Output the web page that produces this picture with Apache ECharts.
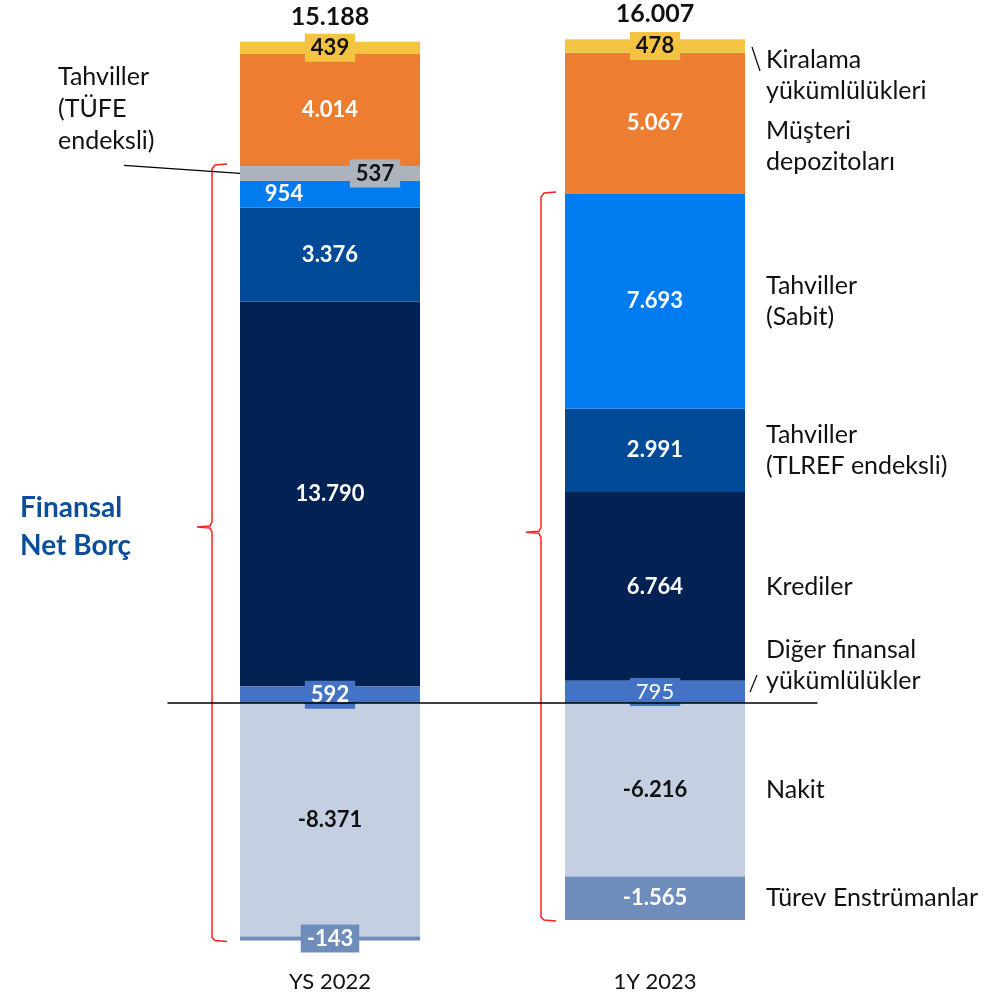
<!DOCTYPE html>
<html><head><meta charset="utf-8">
<script src="https://cdn.jsdelivr.net/npm/echarts@6/dist/echarts.min.js"></script>
<style>html,body{margin:0;padding:0;background:#fff}#c{width:1004px;height:998px}</style>
</head><body><div id="c"></div>
<script>
var categories = ['YS 2022', '1Y 2023'];
var diger = [592, 795];
var krediler = [13790, 6764];
var tlref = [3376, 2991];
var sabit = [954, 7693];
var tufe = [537, 0];
var musteri = [4014, 5067];
var kiralama = [439, 478];
var nakit = [-8371, -6216];
var turev = [-143, -1565];

var posSeries = [diger, krediler, tlref, sabit, tufe, musteri, kiralama];
var negSeries = [nakit, turev];
var posTotal = categories.map(function(_, i){ return posSeries.reduce(function(s,a){return s+a[i];},0); });
var netTotal = categories.map(function(_, i){ return posTotal[i] + negSeries.reduce(function(s,a){return s+a[i];},0); });

function fmt(v){
  var neg = v < 0; var s = String(Math.abs(v));
  s = s.replace(/\B(?=(\d{3})+(?!\d))/g, '.');
  return (neg ? '-' : '') + s;
}
var FONT = 'Lato';
var chart = echarts.init(document.getElementById('c'), null, {renderer:'canvas'});

function lbl(extra){
  var o = {show:true, position:'inside', fontFamily:FONT, fontSize:22, fontWeight:'bold', color:'#fff',
    formatter:function(p){ return p.value === 0 ? '' : fmt(p.value); }};
  for (var k in extra) o[k] = extra[k];
  return o;
}
function items(arr, perItem){
  return arr.map(function(v, i){
    var it = {value:v};
    if (v === 0) it.label = {show:false};
    else if (perItem && perItem[i]) it.label = perItem[i];
    return it;
  });
}
function bar(name, data, color, label, z){
  return {type:'bar', name:name, stack:'a', barWidth:180, data:data, z: z || 2,
    itemStyle:{color:color}, label:label, emphasis:{disabled:true}, silent:true};
}
var box = [4,6,2,6];
var option = {
  animation:false,
  grid:{left:167.5, width:650, top:5.5, height:948.6},
  xAxis:{type:'category', data:categories, axisLine:{show:false}, axisTick:{show:false},
    axisLabel:{fontFamily:FONT, fontSize:22, color:'#111', margin:17}},
  yAxis:{type:'value', min:-9000, max:25000, show:false, splitLine:{show:false}},
  series:[
    bar('Diğer finansal yükümlülükler', items(diger, [
        {backgroundColor:'#4472C4', padding:box},
        {backgroundColor:'#4472C4', padding:box, fontWeight:'normal'}
      ]), '#4472C4', lbl({}), 3),
    bar('Krediler', items(krediler), '#022253', lbl({})),
    bar('Tahviller (TLREF endeksli)', items(tlref), '#004A97', lbl({})),
    bar('Tahviller (Sabit)', items(sabit, [{offset:[-46,0]}, null]), '#007CF0', lbl({})),
    bar('Tahviller (TÜFE endeksli)', items(tufe), '#ADB3BD',
      lbl({color:'#111', backgroundColor:'#ADB3BD', padding:box, offset:[45,0]})),
    bar('Müşteri depozitoları', items(musteri), '#ED7D31', lbl({})),
    bar('Kiralama yükümlülükleri', items(kiralama), '#F4C342', lbl({color:'#111', backgroundColor:'#F4C342', padding:box})),
    bar('Nakit', items(nakit), '#C4CFE1', lbl({color:'#111'})),
    bar('Türev Enstrümanlar', items(turev, [{backgroundColor:'#6E8DBB', padding:box}, null]), '#6E8DBB', lbl({}), 2.5)
  ]
};
// zero line
option.series[8].markLine = {silent:true, symbol:['none','none'], label:{show:false},
  lineStyle:{color:'#000', width:1.5, type:'solid'}, data:[{yAxis:0}]};
chart.setOption(option);

function px(i, v){ return chart.convertToPixel({xAxisIndex:0, yAxisIndex:0}, [i, v]); }
function mid(i, arrs, idx){
  var base = 0; for (var k=0;k<idx;k++) base += arrs[k][i];
  return px(i, base + arrs[idx][i]/2)[1];
}
var half = 90;
var bar1L = px(0,0)[0] - half, bar2L = px(1,0)[0] - half, bar2R = px(1,0)[0] + half;
var bracketTop1 = px(0, diger[0]+krediler[0]+tlref[0]+sabit[0]+tufe[0])[1];
var bracketBot1 = px(0, nakit[0]+turev[0])[1];
var bracketTop2 = px(1, diger[1]+krediler[1]+tlref[1]+sabit[1]+tufe[1])[1];
var bracketBot2 = px(1, nakit[1]+turev[1])[1];

function brace(x0, top, bot){
  var tip = top + 0.466*(bot-top);
  return {type:'polyline', silent:true, shape:{points:[
      [x0+15, top-2],[x0+3, top-1],[x0, top+3],[x0, tip-5],[x0-2, tip-1],[x0-15, tip],[x0-2, tip+1],[x0, tip+5],
      [x0, bot-3],[x0+3, bot],[x0+15, bot+1]]},
    style:{stroke:'#FF2020', lineWidth:1.5, fill:null}};
}
function txt(x, y, t, extra){
  var s = {text:t, x:x, y:y, fontFamily:FONT, fontSize:25, fill:'#111', lineHeight:31, verticalAlign:'middle', align:'left'};
  for (var k in extra) s[k] = extra[k];
  return {type:'text', silent:true, style:s};
}
var rx = bar2R + 21;
var tufeMid = mid(0, posSeries, 4);
var g = [
  brace(bar1L - 28, bracketTop1, bracketBot1),
  brace(bar2L - 24, bracketTop2, bracketBot2),
  {type:'line', silent:true, shape:{x1:124, y1:tufeMid-8, x2:bar1L, y2:tufeMid}, style:{stroke:'#000', lineWidth:1.2}},
  {type:'line', silent:true, shape:{x1:bar2R+7, y1:mid(1,posSeries,6)+1, x2:bar2R+15, y2:mid(1,posSeries,6)+25}, style:{stroke:'#000', lineWidth:1.2}},
  {type:'line', silent:true, shape:{x1:bar2R+5, y1:mid(1,posSeries,0), x2:bar2R+12, y2:mid(1,posSeries,0)-17}, style:{stroke:'#000', lineWidth:1.2}},
  txt(rx, mid(1,posSeries,6)+29, 'Kiralama\nyükümlülükleri'),
  txt(rx, mid(1,posSeries,5)+23, 'Müşteri\ndepozitoları'),
  txt(rx, mid(1,posSeries,3), 'Tahviller\n(Sabit)'),
  txt(rx, mid(1,posSeries,2), 'Tahviller\n(TLREF endeksli)'),
  txt(rx, mid(1,posSeries,1), 'Krediler'),
  txt(rx, mid(1,posSeries,0)-26, 'Diğer finansal\nyükümlülükler'),
  txt(rx, px(1, nakit[1]/2)[1], 'Nakit'),
  txt(rx, px(1, nakit[1]+turev[1]/2)[1], 'Türev Enstrümanlar'),
  txt(58, tufeMid-65, 'Tahviller\n(TÜFE\nendeksli)', {lineHeight:32}),
  txt(20, bracketTop1 + 0.466*(bracketBot1-bracketTop1), 'Finansal\nNet Borç', {fontSize:28, fontWeight:'bold', fill:'#0B4E9B', lineHeight:38})
];
categories.forEach(function(_, i){
  var p = px(i, posTotal[i]);
  g.push({type:'text', silent:true, style:{text:fmt(netTotal[i]), x:p[0], y:p[1]-25, align:'center', verticalAlign:'middle',
    fontFamily:FONT, fontSize:25, fontWeight:'bold', fill:'#111'}});
});
chart.setOption({graphic:g});
</script></body></html>
